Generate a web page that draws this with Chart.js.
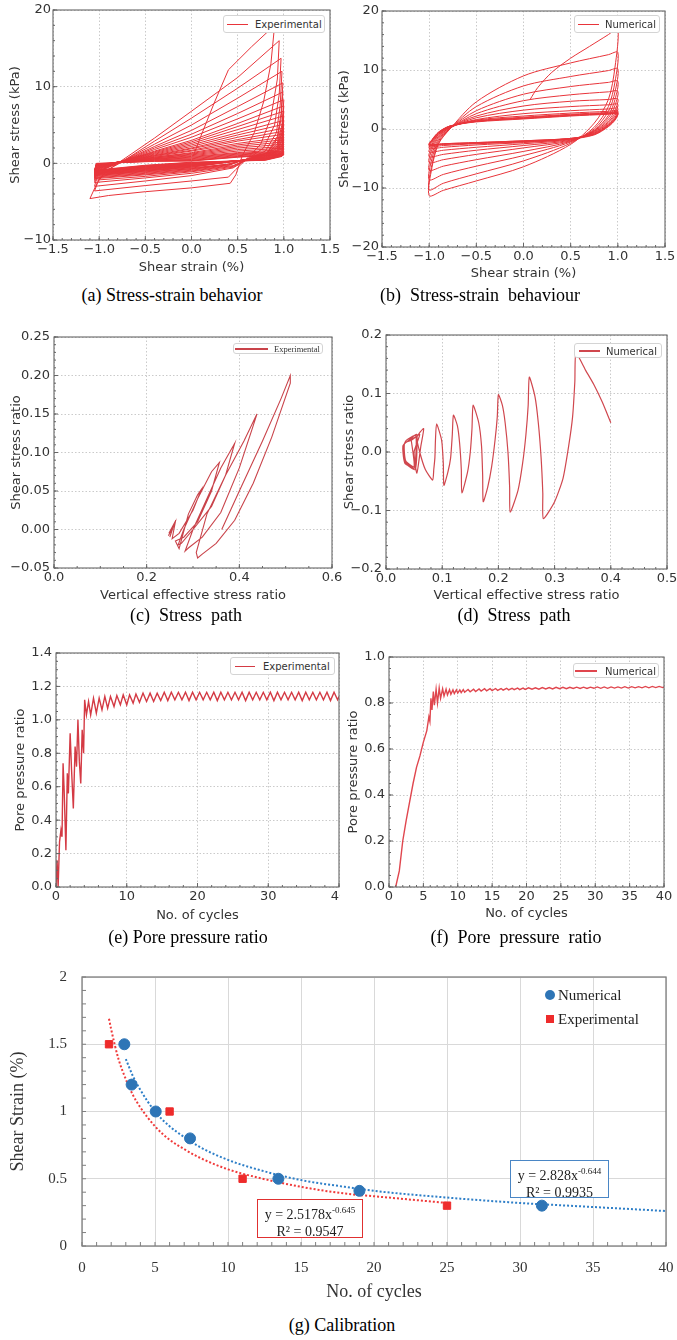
<!DOCTYPE html>
<html>
<head>
<meta charset="utf-8">
<script src="https://cdn.jsdelivr.net/npm/chart.js@4.4.1/dist/chart.umd.min.js"></script>
<style>
html, body { margin: 0; padding: 0; background: #fff; overflow: hidden; }
body { width: 677px; height: 1340px; position: relative; }
canvas { position: absolute; }
.cap { position: absolute; font-family: "Liberation Serif", "Times New Roman", serif; font-size: 18px; color: #000; white-space: pre; transform: translate(-50%, -50%); }
.leg { position: absolute; background: #fff; border: 1px solid #d4d4d4; border-radius: 3px; box-sizing: border-box; color: #333; }
.leg i { position: absolute; height: 1.5px; }
.leg span { position: absolute; top: 50%; transform: translateY(-50%); white-space: nowrap; }
.eq { position: absolute; background: #fff; box-sizing: border-box; font-family: "Liberation Serif", serif; font-size: 14px; color: #222; text-align: center; line-height: 17px; padding-top: 2px; }
.eq sup { font-size: 9px; }
.gl { position: absolute; font-family: "Liberation Serif", serif; font-size: 15px; color: #222; transform: translateY(-50%); white-space: nowrap; }
</style>
</head>
<body>
<div id="clipE" style="position:absolute;left:0;top:0;width:340px;height:960px;overflow:hidden"></div>
<script>
// (a) experimental stress-strain loops: [strain %, stress kPa]
const expStrainStress = [
  [0.02,1.0],[0.1,3.5],[0.25,8.0],[0.4,12.2],[0.65,15.2],[0.9,18.0],
  [0.86,13.0],[0.78,8.0],[0.68,4.0],[0.55,1.0],[0.48,-1.5],[0.42,-2.6],[0.0,-3.2],[-0.5,-3.7],[-0.9,-4.2],[-1.1,-4.6],
  [-1.02,-2.5],[-0.92,-1.0],[-0.8,0.0],[-0.4,3.3],[0.0,6.8],[0.5,11.2],[0.95,16.0],
  [0.93,11.0],[0.86,6.0],[0.75,2.5],[0.6,0.6],[0.48,-0.8],[0.4,-1.8],[0.0,-2.3],[-0.5,-2.9],[-1.05,-3.6],
  [-1.0,-2.0],[-0.9,-0.8],[-0.78,0.0],[-0.4,2.9],[0.0,5.9],[0.5,9.8],[0.97,13.7],
  [0.95,9.0],[0.9,5.0],[0.78,2.0],[0.6,0.5],[0.45,-0.6],[0.0,-1.6],[-0.5,-2.3],[-1.05,-3.0],
  [-1.02,-1.6],[-0.92,-0.6],[-0.78,0.1],[-0.4,2.5],[0.0,5.0],[0.5,8.5],[0.98,12.0],
  [0.96,7.5],[0.92,4.0],[0.8,1.6],[0.6,0.5],[0.45,-0.5],[0.0,-1.3],[-0.5,-1.9],[-1.05,-2.5],
  [-1.03,-1.3],[-0.92,-0.5],[-0.78,0.1],[-0.4,2.2],[0.0,4.3],[0.5,7.4],[0.99,10.5],
  [0.97,6.5],[0.93,3.5],[0.82,1.4],[0.6,0.5],[0.45,-0.4],[0.0,-1.1],[-0.5,-1.7],[-1.05,-2.2],
  [-1.03,-1.2],[-0.78,0.1],[-0.4,2.0],[0.0,3.8],[0.5,6.5],[0.99,9.3],
  [0.97,5.8],[0.93,3.2],[0.82,1.3],[0.6,0.5],[0.45,-0.3],[0.0,-1.0],[-0.5,-1.5],[-1.05,-2.0],
  [-1.03,-1.1],[-0.78,0.1],[-0.4,1.8],[0.0,3.4],[0.5,5.8],[1.0,8.3],
  [0.98,5.0],[0.93,2.8],[0.8,1.2],[0.55,0.4],[0.4,-0.3],[0.0,-0.9],[-0.5,-1.4],[-1.05,-1.9],
  [-1.03,-1.0],[-0.78,0.15],[-0.4,1.6],[0.0,3.0],[0.5,5.2],[1.0,7.5],
  [0.98,4.5],[0.93,2.5],[0.8,1.1],[0.55,0.4],[0.4,-0.2],[0.0,-0.8],[-0.5,-1.3],[-1.05,-1.8],
  [-1.03,-0.9],[-0.78,0.15],[-0.4,1.5],[0.0,2.8],[0.5,4.8],[1.0,6.8],
  [0.98,4.1],[0.93,2.3],[0.8,1.0],[0.55,0.4],[0.4,-0.2],[0.0,-0.7],[-0.5,-1.2],[-1.05,-1.7],
  [-1.03,-0.8],[-0.78,0.2],[-0.4,1.4],[0.0,2.6],[0.5,4.4],[1.0,6.2],
  [0.98,3.8],[0.93,2.1],[0.8,1.0],[0.55,0.4],[0.4,-0.1],[0.0,-0.7],[-0.5,-1.1],[-1.05,-1.6],
  [-1.03,-0.8],[-0.78,0.2],[-0.4,1.3],[0.0,2.4],[0.5,4.0],[1.0,5.6],
  [0.98,3.4],[0.93,2.0],[0.8,0.9],[0.55,0.4],[0.4,-0.1],[0.0,-0.6],[-0.5,-1.0],[-1.05,-1.6],
  [-1.03,-0.7],[-0.78,0.2],[-0.4,1.2],[0.0,2.2],[0.5,3.7],[1.0,5.1],
  [0.98,3.1],[0.93,1.8],[0.8,0.9],[0.55,0.4],[0.0,-0.5],[-0.5,-1.0],[-1.05,-1.5],
  [-1.03,-0.7],[-0.78,0.2],[-0.4,1.1],[0.0,2.0],[0.5,3.4],[1.0,4.6],
  [0.98,2.9],[0.93,1.7],[0.8,0.8],[0.55,0.4],[0.0,-0.5],[-0.5,-0.9],[-1.05,-1.5],
  [-1.03,-0.6],[-0.78,0.2],[-0.4,1.0],[0.0,1.9],[0.5,3.1],[1.0,4.2],
  [0.98,2.6],[0.93,1.6],[0.8,0.8],[0.55,0.4],[0.0,-0.4],[-0.5,-0.9],[-1.05,-1.4],
  [-1.03,-0.6],[-0.78,0.2],[-0.4,1.0],[0.0,1.7],[0.5,2.9],[1.0,3.8],
  [0.98,2.4],[0.93,1.5],[0.8,0.8],[0.55,0.4],[0.0,-0.4],[-0.5,-0.8],[-1.05,-1.4],
  [-1.03,-0.5],[-0.78,0.2],[-0.4,0.9],[0.0,1.6],[0.5,2.6],[1.0,3.4],
  [0.98,2.2],[0.93,1.4],[0.8,0.7],[0.55,0.4],[0.0,-0.3],[-0.5,-0.8],[-1.05,-1.3],
  [-1.03,-0.5],[-0.78,0.2],[-0.4,0.8],[0.0,1.4],[0.5,2.4],[1.0,3.1],
  [0.98,2.0],[0.93,1.3],[0.8,0.7],[0.55,0.4],[0.0,-0.3],[-0.5,-0.7],[-1.05,-1.3],
  [-1.03,-0.4],[-0.78,0.2],[-0.4,0.8],[0.0,1.3],[0.5,2.2],[1.0,2.8],
  [0.98,1.8],[0.93,1.2],[0.8,0.7],[0.55,0.4],[0.0,-0.3],[-0.5,-0.7],[-1.05,-1.3],
  [-1.03,-0.4],[-0.78,0.2],[-0.4,0.7],[0.0,1.2],[0.5,2.0],[1.0,2.5],
  [0.98,1.7],[0.93,1.1],[0.8,0.6],[0.55,0.4],[0.0,-0.2],[-0.5,-0.6],[-1.05,-1.2],
  [-1.03,-0.3],[-0.78,0.2],[-0.4,0.7],[0.0,1.1],[0.5,1.8],[1.0,2.2],
  [0.98,1.5],[0.93,1.0],[0.8,0.6],[0.55,0.4],[0.0,-0.2],[-0.5,-0.6],[-1.05,-1.2],
  [-1.03,-0.3],[-0.78,0.2],[-0.4,0.6],[0.0,1.0],[0.5,1.6],[1.0,2.0],
  [0.98,1.4],[0.93,1.0],[0.8,0.6],[0.55,0.4],[0.0,-0.2],[-0.5,-0.6],[-1.05,-1.2],
  [-1.03,-0.3],[-0.78,0.2],[-0.4,0.6],[0.0,0.9],[0.5,1.4],[1.0,1.8],
  [0.98,1.3],[0.8,0.6],[0.0,-0.1],[-0.5,-0.5],[-1.05,-1.1],[-1.03,-0.2],[-0.4,0.55],[0.0,0.8],[0.5,1.3],[1.0,1.6],
  [0.98,1.2],[0.8,0.55],[0.0,-0.1],[-0.5,-0.5],[-1.05,-1.1],[-1.03,-0.2],[-0.4,0.5],[0.0,0.7],[0.5,1.2],[1.0,1.5],
  [0.98,1.1],[0.8,0.5],[0.0,-0.05],[-0.5,-0.45],[-1.05,-1.05],[-1.03,-0.15],[-0.4,0.45],[0.0,0.6],[0.5,1.1],[1.0,1.4],
  [0.98,1.05],[0.8,0.5],[0.0,0.0],[-0.5,-0.4],[-1.05,-1.0],[-1.03,-0.1],[-0.4,0.4],[0.0,0.5],[0.5,1.0],[1.0,1.3],
  [0.98,1.0],[0.8,0.45],[0.0,0.05],[-0.5,-0.35],[-1.05,-1.0],[-1.03,-0.1],[-0.4,0.35],[0.0,0.4],[0.5,0.9],[1.0,1.2],
  [0.98,0.95],[0.8,0.45],[0.0,0.1],[-0.5,-0.3],[-1.05,-0.95],[-1.03,-0.05],[-0.4,0.3],[0.0,0.35],[0.5,0.85],[1.0,1.15],
  [0.98,0.9],[0.8,0.4],[0.0,0.15],[-0.5,-0.25],[-1.05,-0.9],[-1.03,0.0],[-0.4,0.25],[0.0,0.3],[0.5,0.8],[1.0,1.1]
];

// (b) numerical stress-strain loops
const numStrainStress = [
  [0.07,5.0],[0.15,7.0],[0.3,9.6],[0.5,12.0],[0.7,14.0],[0.9,16.0],[1.0,17.0],
  [0.97,10.5],[0.9,5.0],[0.75,1.0],[0.5,-2.6],[0.0,-6.4],[-0.5,-8.8],[-0.85,-10.4],[-1.0,-11.3],
  [-0.97,-6.5],[-0.9,-2.5],[-0.78,0.0],[-0.5,4.6],[0.0,9.0],[0.5,11.2],[0.9,12.6],[1.0,13.0],
  [0.97,8.0],[0.9,3.8],[0.75,0.3],[0.5,-2.4],[0.0,-5.4],[-0.5,-7.6],[-0.85,-9.2],[-1.0,-10.3],
  [-0.97,-6.0],[-0.9,-2.3],[-0.78,0.0],[-0.5,3.8],[0.0,7.3],[0.5,8.9],[0.9,9.9],[1.0,10.2],
  [0.97,6.3],[0.9,3.0],[0.75,0.0],[0.5,-2.2],[0.0,-4.5],[-0.5,-6.3],[-0.85,-7.7],[-1.0,-8.6],
  [-0.97,-5.0],[-0.9,-2.0],[-0.78,0.1],[-0.5,3.1],[0.0,5.9],[0.5,7.2],[0.9,7.9],[1.0,8.1],
  [0.97,5.0],[0.9,2.3],[0.75,-0.2],[0.5,-2.1],[0.0,-3.8],[-0.5,-5.2],[-0.85,-6.3],[-1.0,-7.0],
  [-0.97,-4.2],[-0.9,-1.7],[-0.78,0.1],[-0.5,2.6],[0.0,4.8],[0.5,5.8],[0.9,6.3],[1.0,6.4],
  [0.97,4.0],[0.9,1.9],[0.75,-0.3],[0.5,-2.0],[0.0,-3.2],[-0.5,-4.3],[-0.85,-5.2],[-1.0,-5.7],
  [-0.97,-3.5],[-0.9,-1.4],[-0.78,0.2],[-0.5,2.2],[0.0,3.9],[0.5,4.7],[0.9,5.0],[1.0,5.1],
  [0.97,3.2],[0.9,1.5],[0.75,-0.4],[0.5,-1.9],[0.0,-2.8],[-0.5,-3.6],[-0.85,-4.3],[-1.0,-4.7],
  [-0.97,-3.0],[-0.9,-1.2],[-0.78,0.2],[-0.5,1.9],[0.0,3.2],[0.5,3.8],[0.9,4.1],[1.0,4.2],
  [0.97,2.7],[0.9,1.2],[0.75,-0.5],[0.5,-1.8],[0.0,-2.5],[-0.5,-3.1],[-0.85,-3.6],[-1.0,-3.9],
  [-0.97,-2.6],[-0.9,-1.0],[-0.78,0.3],[-0.5,1.6],[0.0,2.6],[0.5,3.1],[0.9,3.4],[1.0,3.5],
  [0.97,2.3],[0.9,1.0],[0.75,-0.6],[0.5,-1.7],[0.0,-2.3],[-0.5,-2.7],[-0.85,-3.1],[-1.0,-3.3],
  [-0.97,-2.3],[-0.9,-0.9],[-0.78,0.3],[-0.5,1.5],[0.0,2.2],[0.5,2.7],[0.9,3.0],[1.0,3.1],
  [0.97,2.0],[0.9,0.8],[0.75,-0.7],[0.5,-1.7],[0.0,-2.2],[-0.5,-2.5],[-0.85,-2.8],[-1.0,-3.0],
  [-0.97,-2.1],[-0.9,-0.8],[-0.78,0.4],[-0.5,1.4],[0.0,2.0],[0.5,2.5],[0.9,2.8],[1.0,2.9],
  [0.97,1.8],[0.9,0.7],[0.75,-0.8],[0.5,-1.6],[0.0,-2.1],[-0.5,-2.4],[-0.85,-2.6],[-1.0,-2.8],
  [-0.97,-2.0],[-0.9,-0.7],[-0.78,0.4],[-0.5,1.3],[0.0,1.9],[0.5,2.4],[0.9,2.7],[1.0,2.8],
  [0.97,1.7],[0.9,0.6],[0.75,-0.9],[0.5,-1.6],[0.0,-2.0],[-0.5,-2.3],[-0.85,-2.5],[-1.0,-2.7],
  [-0.97,-1.9],[-0.9,-0.6],[-0.78,0.5],[-0.5,1.3],[0.0,1.8],[0.5,2.3],[0.9,2.6],[1.0,2.7],
  [0.97,1.6],[0.9,0.5],[0.75,-0.9],[0.5,-1.6],[0.0,-2.0],[-0.5,-2.3],[-0.85,-2.5],[-1.0,-2.6],
  [-0.97,-1.8],[-0.9,-0.5],[-0.78,0.5],[-0.5,1.2],[0.0,1.7],[0.5,2.2],[0.9,2.5],[1.0,2.6],
  [0.97,1.5],[0.9,0.4],[0.75,-1.0],[0.5,-1.7],[0.0,-2.1],[-0.5,-2.4],[-0.85,-2.6],[-1.0,-2.7],
  [-0.97,-1.9],[-0.9,-0.6],[-0.78,0.5],[-0.5,1.3],[0.0,1.8],[0.5,2.3],[0.9,2.6],[1.0,2.7]
];

// (c) experimental stress path: [vertical effective stress ratio, shear stress ratio]
const expPath = [
  [0.362,0.0],[0.40,0.05],[0.45,0.115],[0.49,0.17],[0.51,0.2],[0.51,0.19],
  [0.47,0.12],[0.43,0.06],[0.39,0.012],[0.35,-0.018],[0.32,-0.032],[0.31,-0.037],[0.307,-0.03],
  [0.33,0.02],[0.37,0.07],[0.41,0.115],[0.438,0.15],[0.43,0.135],
  [0.40,0.08],[0.36,0.022],[0.32,-0.01],[0.29,-0.024],[0.283,-0.028],
  [0.30,0.0],[0.33,0.04],[0.36,0.08],[0.39,0.112],
  [0.37,0.07],[0.34,0.03],[0.30,0.0],[0.275,-0.018],[0.268,-0.02],
  [0.28,0.0],[0.31,0.04],[0.34,0.075],[0.357,0.087],
  [0.34,0.05],[0.31,0.01],[0.28,-0.01],[0.262,-0.015],[0.27,-0.025],
  [0.29,0.02],[0.31,0.045],[0.318,0.052],
  [0.30,0.025],[0.27,-0.005],[0.255,-0.012],
  [0.262,0.01],[0.247,-0.008],[0.263,0.012],[0.248,-0.005],[0.26,0.008],[0.25,-0.01],[0.258,0.006]
];

// (d) numerical stress path
const numPath = [
  [0.40,0.05],[0.385,0.085],[0.37,0.115],[0.355,0.14],[0.338,0.169],
  [0.336,0.12],[0.332,0.06],[0.325,0.01],[0.315,-0.045],[0.30,-0.085],[0.28,-0.114],
  [0.279,-0.07],[0.276,-0.01],[0.271,0.05],[0.265,0.095],[0.255,0.128],
  [0.253,0.08],[0.249,0.03],[0.243,-0.02],[0.235,-0.065],[0.221,-0.103],
  [0.22,-0.06],[0.217,0.0],[0.212,0.05],[0.207,0.08],[0.2,0.098],
  [0.198,0.06],[0.194,0.02],[0.188,-0.025],[0.181,-0.06],[0.173,-0.085],
  [0.172,-0.04],[0.17,0.01],[0.165,0.05],[0.155,0.08],
  [0.153,0.04],[0.15,0.0],[0.145,-0.035],[0.135,-0.07],
  [0.134,-0.03],[0.131,0.015],[0.127,0.045],[0.12,0.063],
  [0.118,0.03],[0.115,-0.01],[0.11,-0.035],[0.103,-0.057],
  [0.102,-0.02],[0.099,0.02],[0.09,0.048],
  [0.088,0.02],[0.087,-0.01],[0.085,-0.03],[0.083,-0.048],
  [0.07,-0.03],[0.06,0.0],[0.055,0.025],[0.067,0.04],[0.062,0.01],[0.055,-0.036],
  [0.05,0.0],[0.06,0.03],[0.045,0.02],[0.033,0.015],[0.035,-0.015],[0.05,-0.025],
  [0.055,0.03],[0.04,0.02],[0.032,0.012],[0.034,-0.018],[0.052,-0.03],
  [0.054,0.025],[0.038,0.018],[0.03,0.01],[0.033,-0.015],[0.05,-0.028],
  [0.053,0.028],[0.036,0.02],[0.03,0.005],[0.034,-0.02],[0.05,-0.025],[0.045,0.02]
];

// (e) experimental pore pressure ratio: [cycle, ratio]
const expPore = [
  [0,0],[0.15,0.16],[0.3,0.0],[0.5,0.27],[0.7,0.34],[0.85,0.3],[1.0,0.74],[1.15,0.58],[1.4,0.22],
  [1.6,0.68],[1.75,0.56],[2.0,0.92],[2.2,0.7],[2.45,0.47],[2.7,0.84],[2.9,0.72],[3.1,1.0],
  [3.3,0.75],[3.5,0.62],[3.7,0.94],[3.9,0.8],[4.05,1.12],[4.3,1.03],[4.6,1.11],[4.9,1.03],
  [5.3,1.13],[5.7,1.04],[6.1,1.13],[6.5,1.06],[6.9,1.14],[7.3,1.07],[7.7,1.14],[8.2,1.08],
  [8.6,1.145],[9.1,1.09],[9.5,1.15],[10.0,1.09],[10.4,1.15],[10.9,1.1],[11.3,1.155],[11.8,1.105],
  [12.3,1.16],[12.8,1.11],[13.3,1.16],[13.8,1.11],[14.3,1.16],[14.8,1.115],[15.3,1.165],[15.8,1.115],
  [16.3,1.165],[16.8,1.12],[17.3,1.165],[17.8,1.12],[18.3,1.165],[18.8,1.115],[19.3,1.165],[19.8,1.12],
  [20.3,1.165],[20.8,1.12],[21.3,1.165],[21.8,1.12],[22.3,1.165],[22.8,1.115],[23.3,1.165],[23.8,1.12],
  [24.3,1.165],[24.8,1.12],[25.3,1.165],[25.8,1.12],[26.3,1.165],[26.8,1.115],[27.3,1.165],[27.8,1.12],
  [28.3,1.165],[28.8,1.12],[29.3,1.165],[29.8,1.12],[30.3,1.165],[30.8,1.115],[31.3,1.165],[31.8,1.12],
  [32.3,1.165],[32.8,1.12],[33.3,1.165],[33.8,1.12],[34.3,1.165],[34.8,1.115],[35.3,1.165],[35.8,1.12],
  [36.3,1.165],[36.8,1.12],[37.3,1.165],[37.8,1.12],[38.3,1.165],[38.8,1.115],[39.3,1.165],[39.8,1.12],[40,1.14]
];

// (f) numerical pore pressure ratio
const numPore = [
  [0.97,0],[1.5,0.07],[2.0,0.2],[2.5,0.29],[3.0,0.37],[3.5,0.45],[4.0,0.52],[4.5,0.57],[5.0,0.63],
  [5.5,0.68],[5.8,0.74],[5.95,0.72],[6.1,0.82],[6.25,0.77],[6.45,0.85],[6.6,0.79],[6.85,0.86],
  [7.05,0.8],[7.3,0.865],[7.5,0.82],[7.8,0.862],[8.0,0.83],[8.3,0.86],[8.5,0.835],[8.8,0.858],
  [9.0,0.838],[9.3,0.857],[9.5,0.841],[9.8,0.857],[10.0,0.843],[10.3,0.857],[10.5,0.845],[10.8,0.858],
  [11.0,0.847],[11.5,0.859],[11.8,0.849],[12.3,0.86],[12.6,0.85],[13.1,0.861],[13.4,0.852],[13.9,0.862],
  [14.2,0.853],[14.7,0.862],[15.0,0.854],[15.5,0.863],[15.8,0.855],[16.3,0.863],[16.6,0.856],[17.1,0.864],
  [17.4,0.857],[17.9,0.864],[18.2,0.858],[18.7,0.865],[19.0,0.858],[19.5,0.865],[19.8,0.859],[20.3,0.866],
  [20.8,0.86],[21.3,0.866],[21.8,0.86],[22.3,0.867],[22.8,0.861],[23.3,0.867],[23.8,0.861],[24.3,0.868],
  [24.8,0.862],[25.3,0.868],[25.8,0.862],[26.3,0.868],[26.8,0.863],[27.3,0.869],[27.8,0.863],[28.3,0.869],
  [28.8,0.863],[29.3,0.869],[29.8,0.864],[30.3,0.87],[30.8,0.864],[31.3,0.87],[31.8,0.864],[32.3,0.87],
  [32.8,0.865],[33.3,0.87],[33.8,0.865],[34.3,0.871],[34.8,0.865],[35.3,0.871],[35.8,0.866],[36.3,0.871],
  [36.8,0.866],[37.3,0.872],[37.8,0.866],[38.3,0.872],[38.8,0.867],[39.3,0.872],[39.8,0.867],[40,0.87]
];

// (g) calibration: [no. of cycles, shear strain %]
const calNumerical = [[2.9,1.5],[3.4,1.2],[5.05,1.0],[7.4,0.8],[13.45,0.5],[19,0.41],[31.5,0.3]];
const calExperimental = [[1.85,1.5],[6,1.0],[11,0.5],[25,0.3]];
const trendNumerical = [[3,1.39],[3.5,1.26],[4,1.16],[5,1.0],[6,0.89],[7,0.81],[8,0.74],[10,0.64],[12,0.57],[15,0.49],[18,0.44],[20,0.41],[25,0.36],[30,0.32],[35,0.29],[40,0.26]];
const trendExperimental = [[1.85,1.69],[2,1.61],[2.5,1.39],[3,1.24],[3.5,1.12],[4,1.03],[5,0.89],[6,0.79],[7,0.72],[8,0.66],[10,0.57],[12,0.51],[15,0.44],[18,0.39],[20,0.37],[25,0.32]];

const pts = arr => arr.map(([x, y]) => ({ x, y }));

// frame round the plot area plus inward major/minor ticks on left and bottom
const framePlugin = {
  id: 'frame',
  afterDraw(chart, args, o) {
    const { ctx, chartArea: a } = chart;
    const sx = chart.scales.x, sy = chart.scales.y;
    ctx.save();
    ctx.strokeStyle = o.color;
    ctx.lineWidth = 1;
    ctx.beginPath();
    const marks = (s, step, len) => {
      const n = Math.round((s.max - s.min) / step);
      for (let i = 0; i <= n; i++) {
        const p = s.getPixelForValue(s.min + i * step);
        if (s.isHorizontal()) { ctx.moveTo(p, a.bottom); ctx.lineTo(p, a.bottom - len); }
        else { ctx.moveTo(a.left, p); ctx.lineTo(a.left + len, p); }
      }
    };
    marks(sx, o.minorX, o.minorLen); marks(sy, o.minorY, o.minorLen);
    marks(sx, sx.options.ticks.stepSize, o.majorLen); marks(sy, sy.options.ticks.stepSize, o.majorLen);
    ctx.stroke();
    ctx.lineWidth = o.width;
    ctx.strokeRect(a.left, a.top, a.right - a.left, a.bottom - a.top);
    ctx.restore();
  }
};

function fmt(v, dec) {
  if (Math.abs(v) < 1e-9) v = 0;
  const s = dec == null ? String(+v.toFixed(6)) : v.toFixed(dec);
  return s.replace('-', '\u2212');
}

const mpl = { family: 'DejaVu Sans', size: 13, titleSize: 13, color: '#333', gridColor: '#bdbdbd', gridWidth: 0.8, dash: [1.5, 2] };
const xl = { family: 'Liberation Serif', size: 15, titleSize: 18, color: '#333', gridColor: '#d9d9d9', gridWidth: 1, dash: [] };

function axis(a, size, horiz) {
  return {
    type: 'linear', min: a.min, max: a.max,
    ticks: { stepSize: a.step, autoSkip: false, maxRotation: 0, padding: a.tickPad, color: a.color,
             font: { family: a.family, size: a.size }, callback: v => fmt(v, a.dec) },
    grid: { color: a.gridColor, lineWidth: a.gridWidth, drawTicks: false },
    border: { display: false, dash: a.dash },
    title: { display: true, text: a.title, color: a.color, font: { family: a.family, size: a.titleSize }, padding: a.titlePad },
    afterFit: s => { if (horiz) s.height = size; else s.width = size; }
  };
}

// padT / padR must cover half a tick label plus the tick padding, or Chart.js shrinks the plot
function plot(box, o) {
  const c = document.createElement('canvas');
  const w = box.r - box.l + o.yW + o.padR, h = box.b - box.t + o.padT + o.xH;
  c.width = w; c.height = h;
  c.style.width = w + 'px'; c.style.height = h + 'px';
  c.style.left = (box.l - o.yW) + 'px'; c.style.top = (box.t - o.padT) + 'px';
  (o.parent || document.body).appendChild(c);
  new Chart(c, {
    type: 'scatter',
    data: { datasets: o.datasets },
    options: {
      responsive: false, animation: false, devicePixelRatio: 1,
      layout: { autoPadding: false, padding: { left: 0, top: o.padT, right: o.padR, bottom: 0 } },
      plugins: { legend: { display: false }, tooltip: { enabled: false }, frame: o.frame },
      scales: { x: axis(o.x, o.xH, true), y: axis(o.y, o.yW, false) }
    },
    plugins: [framePlugin]
  });
}

function lineSet(arr, color, width, tension) {
  return { data: pts(arr), showLine: true, borderColor: color, borderWidth: width, pointRadius: 0, tension: tension || 0, fill: false };
}

const mplFrame = { color: '#666', width: 1.1, majorLen: 4, minorLen: 2 };

// (a)
plot({ l: 53, t: 10, r: 330, b: 240 }, {
  yW: 53, xH: 39, padT: 10, padR: 14,
  datasets: [lineSet(expStrainStress, '#e8343a', 1)],
  frame: Object.assign({ minorX: 0.1, minorY: 2 }, mplFrame),
  x: Object.assign({}, mpl, { min: -1.5, max: 1.5, step: 0.5, dec: 1, tickPad: 2, title: 'Shear strain (%)', titlePad: { top: 0, bottom: 4 } }),
  y: Object.assign({}, mpl, { min: -10, max: 20, step: 10, dec: 0, tickPad: 2, title: 'Shear stress (kPa)', titlePad: { top: 8, bottom: 0 } })
});
// (b)
plot({ l: 382, t: 11, r: 665, b: 247 }, {
  yW: 50, xH: 38, padT: 11, padR: 14,
  datasets: [lineSet(numStrainStress, '#e8343a', 1, 0.3)],
  frame: Object.assign({ minorX: 0.1, minorY: 2 }, mplFrame),
  x: Object.assign({}, mpl, { min: -1.5, max: 1.5, step: 0.5, dec: 1, tickPad: 2, title: 'Shear strain (%)', titlePad: { top: 0, bottom: 4 } }),
  y: Object.assign({}, mpl, { min: -20, max: 20, step: 10, dec: 0, tickPad: 3, title: 'Shear stress (kPa)', titlePad: { top: 5, bottom: 0 } })
});
// (c)
plot({ l: 54, t: 337, r: 332, b: 568 }, {
  yW: 54, xH: 39, padT: 14, padR: 14,
  datasets: [lineSet(expPath, '#c9434a', 1.1)],
  frame: Object.assign({ minorX: 0.05, minorY: 0.01 }, mplFrame),
  x: Object.assign({}, mpl, { min: 0, max: 0.6, step: 0.2, dec: 1, tickPad: 2, title: 'Vertical effective stress ratio', titlePad: { top: 0, bottom: 4 } }),
  y: Object.assign({}, mpl, { min: -0.05, max: 0.25, step: 0.05, dec: 2, tickPad: 4, title: 'Shear stress ratio', titlePad: { top: 9, bottom: 0 } })
});
// (d)
plot({ l: 386, t: 335, r: 667, b: 569 }, {
  yW: 50, xH: 38, padT: 14, padR: 14,
  datasets: [lineSet(numPath, '#d0474e', 1.2, 0.2)],
  frame: Object.assign({ minorX: 0.02, minorY: 0.02 }, mplFrame),
  x: Object.assign({}, mpl, { min: 0, max: 0.5, step: 0.1, dec: 1, tickPad: 2, title: 'Vertical effective stress ratio', titlePad: { top: 0, bottom: 4 } }),
  y: Object.assign({}, mpl, { min: -0.2, max: 0.2, step: 0.1, dec: 1, tickPad: 4, title: 'Shear stress ratio', titlePad: { top: 6, bottom: 0 } })
});
// (e)
plot({ l: 56, t: 653, r: 339, b: 887 }, {
  parent: document.getElementById('clipE'),
  yW: 56, xH: 40, padT: 14, padR: 14,
  datasets: [lineSet(expPore, '#d43a44', 1.4)],
  frame: Object.assign({ minorX: 2, minorY: 0.05 }, mplFrame),
  x: Object.assign({}, mpl, { min: 0, max: 40, step: 10, dec: 0, tickPad: 2, title: 'No. of cycles', titlePad: { top: 0, bottom: 4 } }),
  y: Object.assign({}, mpl, { min: 0, max: 1.4, step: 0.2, dec: 1, tickPad: 4, title: 'Pore pressure ratio', titlePad: { top: 13, bottom: 0 } })
});
// (f)
plot({ l: 389, t: 657, r: 664, b: 887 }, {
  yW: 50, xH: 38, padT: 14, padR: 14,
  datasets: [lineSet(numPore, '#e0464e', 1.4)],
  frame: Object.assign({ minorX: 1, minorY: 0.05 }, mplFrame),
  x: Object.assign({}, mpl, { min: 0, max: 40, step: 5, dec: 0, tickPad: 2, title: 'No. of cycles', titlePad: { top: 0, bottom: 4 } }),
  y: Object.assign({}, mpl, { min: 0, max: 1.0, step: 0.2, dec: 1, tickPad: 4, title: 'Pore pressure ratio', titlePad: { top: 7, bottom: 0 } })
});
// (g)
plot({ l: 82, t: 977, r: 666, b: 1246 }, {
  yW: 82, xH: 61, padT: 26, padR: 23,
  datasets: [
    { data: pts(calNumerical), pointStyle: 'circle', pointRadius: 5.5, backgroundColor: '#2e75b6', borderColor: '#2e75b6', order: 0 },
    { data: pts(calExperimental), pointStyle: 'rect', pointRadius: 5.2, backgroundColor: '#ee2b2b', borderColor: '#ee2b2b', order: 0 },
    { data: pts(trendNumerical), showLine: true, borderColor: '#2e7fc8', borderWidth: 2, borderDash: [2, 2], pointRadius: 0, cubicInterpolationMode: 'monotone', order: 1 },
    { data: pts(trendExperimental), showLine: true, borderColor: '#f03a3a', borderWidth: 2, borderDash: [2, 2], pointRadius: 0, cubicInterpolationMode: 'monotone', order: 1 }
  ],
  frame: { color: '#7f7f7f', width: 1.3, majorLen: 0, minorLen: 4, minorX: 1, minorY: 0.1 },
  x: Object.assign({}, xl, { min: 0, max: 40, step: 5, tickPad: 13, title: 'No. of cycles', titlePad: { top: 0, bottom: 4 } }),
  y: Object.assign({}, xl, { min: 0, max: 2, step: 0.5, tickPad: 15, title: 'Shear Strain (%)', titlePad: { top: 7, bottom: 0 } })
});

// matplotlib-style legends
function legend(l, t, w, h, lineL, lineR, textL, text, color, font) {
  const d = document.createElement('div');
  d.className = 'leg';
  Object.assign(d.style, { left: l + 'px', top: t + 'px', width: w + 'px', height: h + 'px', font: font });
  const i = document.createElement('i');
  Object.assign(i.style, { left: (lineL - l - 1) + 'px', width: (lineR - lineL) + 'px', top: (h / 2 - 1.5) + 'px', background: color });
  const s = document.createElement('span');
  s.textContent = text;
  s.style.left = (textL - l - 1) + 'px';
  d.appendChild(i); d.appendChild(s);
  document.body.appendChild(d);
}
legend(223, 15, 102, 18, 227, 248, 255, 'Experimental', '#e8343a', '10px "DejaVu Sans"');
legend(574, 15, 86, 18, 578, 599, 605, 'Numerical', '#e8343a', '10px "DejaVu Sans"');
legend(233, 343, 90, 11, 235, 268, 274, 'Experimental', '#c9434a', '8.5px "Liberation Serif"');
legend(574, 343, 88, 15, 579, 600, 606, 'Numerical', '#d0474e', '10px "DejaVu Sans"');
legend(230, 657, 105, 18, 235, 255, 263, 'Experimental', '#d43a44', '10px "DejaVu Sans"');
legend(573, 663, 86, 15, 575, 597, 605, 'Numerical', '#e0464e', '10px "DejaVu Sans"');

// captions
[
  [172, 295, '(a) Stress-strain behavior'],
  [480, 295, '(b)  Stress-strain  behaviour'],
  [186, 615, '(c)  Stress  path'],
  [514, 615, '(d)  Stress  path'],
  [188, 937, '(e) Pore pressure ratio'],
  [516, 937, '(f)  Pore  pressure  ratio'],
  [342, 1325, '(g) Calibration']
].forEach(([x, y, t]) => {
  const d = document.createElement('div');
  d.className = 'cap';
  d.style.left = x + 'px'; d.style.top = y + 'px';
  d.textContent = t;
  document.body.appendChild(d);
});
</script>

<!-- (g) legend and trendline labels -->
<div style="position:absolute;left:545px;top:990px;width:10px;height:10px;border-radius:50%;background:#2e75b6"></div>
<div class="gl" style="left:558px;top:995px">Numerical</div>
<div style="position:absolute;left:546px;top:1015px;width:8px;height:8px;background:#ee2b2b"></div>
<div class="gl" style="left:558px;top:1019px">Experimental</div>
<div class="eq" style="left:257px;top:1199px;width:106px;height:39px;border:1px solid #e03030">y = 2.5178x<sup>-0.645</sup><br>R² = 0.9547</div>
<div class="eq" style="left:510px;top:1160px;width:99px;height:38px;border:1px solid #4a86c5">y = 2.828x<sup>-0.644</sup><br>R² = 0.9935</div>
</body>
</html>
